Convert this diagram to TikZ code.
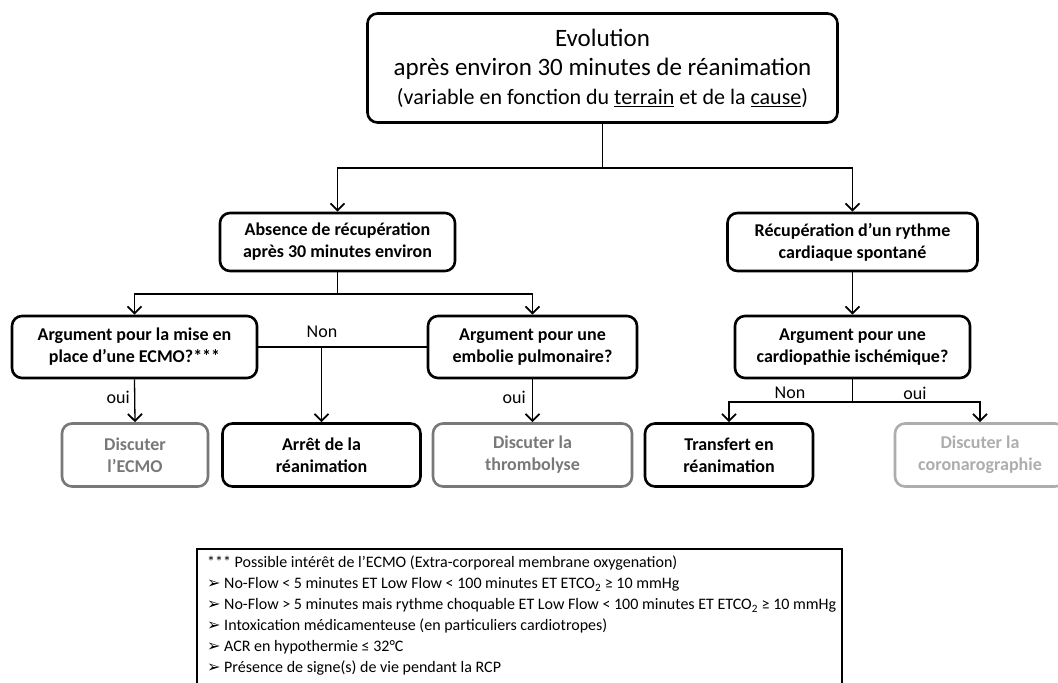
\documentclass[tikz,border=0pt]{standalone}
\usepackage{fontspec}
\setmainfont{Carlito}
\newfontfamily\symfont{DejaVu Sans}
\usetikzlibrary{arrows.meta}
\definecolor{gA}{HTML}{787878}
\definecolor{gB}{HTML}{ADADAD}
\begin{document}
\begin{tikzpicture}[x=1pt,y=-1pt,
 box/.style={draw, line width=2.6pt, rounded corners=10pt, align=center, inner sep=2pt,
   font=\fontsize{18}{22}\selectfont\bfseries},
 grayA/.style={box, draw=gA, text=gA},
 grayB/.style={box, draw=gB, text=gB},
 conn/.style={line width=1.3pt},
 arr/.style={conn, -{Straight Barb[length=7pt,width=14pt,line width=1.8pt]}},
 lbl/.style={font=\fontsize{18}{20}\selectfont, inner sep=1pt}]
\useasboundingbox (0,0) rectangle (1058,683);

\node[box, font=\fontsize{25}{29}\selectfont, minimum width=470pt, minimum height=109pt] (top) at (602.5,68)
 {Evolution\\ après environ 30 minutes de réanimation\\ {\fontsize{22}{28}\selectfont (variable en fonction du \underline{terrain} et de la \underline{cause})}};

\node[box, minimum width=235pt, minimum height=58pt] (abs) at (337.5,242) {Absence de récupération\\ après 30 minutes environ};
\node[box, minimum width=250pt, minimum height=58pt] (rec) at (852.5,242) {Récupération d’un rythme\\ cardiaque spontané};

\node[box, minimum width=245pt, minimum height=62pt] (ecmo) at (134.5,347) {Argument pour la mise en\\ place d’une ECMO?***};
\node[box, minimum width=209pt, minimum height=62pt] (emb) at (532.5,347) {Argument pour une\\ embolie pulmonaire?};
\node[box, minimum width=235pt, minimum height=62pt] (card) at (852.5,347) {Argument pour une\\ cardiopathie ischémique?};

\node[grayA, minimum width=146pt, minimum height=63pt] (decmo) at (135,455) {Discuter\\ l’ECMO};
\node[box, minimum width=198pt, minimum height=63pt] (arret) at (321.5,455) {Arrêt de la\\ réanimation};
\node[grayA, minimum width=199pt, minimum height=63pt] (thromb) at (532.5,455) {Discuter la\\ thrombolyse};
\node[box, minimum width=168pt, minimum height=63pt] (transf) at (729,455) {Transfert en\\ réanimation};
\node[grayB, minimum width=170pt, minimum height=63pt] (coro) at (980,455) {Discuter la\\ coronarographie};

% connectors top
\coordinate (j1) at (602.5,168);
\draw[conn] (top.south) -- (j1);
\draw[arr] (j1) -| (abs.north);
\draw[arr] (j1) -| (rec.north);

% left branch
\coordinate (j2) at (337.5,294);
\draw[conn] (abs.south) -- (j2);
\draw[arr] (j2) -| (ecmo.north);
\draw[arr] (j2) -| (emb.north);

\draw[conn] (ecmo.east) -- (emb.west);
\coordinate (j3) at (arret.north |- ecmo.east);
\draw[arr] (j3) -- (arret.north);
\node[lbl] (non1) at (322,332) {Non};

\draw[arr] (ecmo.south) -- (decmo.north);
\node[lbl, anchor=east] (oui1) at (131,397) {oui};
\draw[arr] (emb.south) -- (thromb.north);
\node[lbl, anchor=east] (oui2) at (527,397) {oui};

% right branch
\draw[arr] (rec.south) -- (card.north);
\coordinate (j4) at (852.5,402);
\draw[conn] (card.south) -- (j4);
\draw[arr] (j4) -| (transf.north);
\draw[arr] (j4) -| (coro.north);
\node[lbl] (non2) at (790,393) {Non};
\node[lbl] (oui3) at (915,393) {oui};

% footnote
\draw[line width=1.2pt] (197,549) rectangle (842,700);
\node[anchor=north west, align=left, inner sep=0pt,
  font=\fontsize{16}{21}\selectfont] (foot) at (207,556)
 {*** Possible intérêt de l’ECMO (Extra-corporeal membrane oxygenation)\\
  {\symfont ➢}~No-Flow < 5 minutes ET Low Flow < 100 minutes ET ETCO\textsubscript{2} ≥ 10 mmHg\\
  {\symfont ➢}~No-Flow > 5 minutes mais rythme choquable ET Low Flow < 100 minutes ET ETCO\textsubscript{2} ≥ 10 mmHg\\
  {\symfont ➢}~Intoxication médicamenteuse (en particuliers cardiotropes)\\
  {\symfont ➢}~ACR en hypothermie ≤ 32°C\\
  {\symfont ➢}~Présence de signe(s) de vie pendant la RCP};
\end{tikzpicture}
\end{document}
